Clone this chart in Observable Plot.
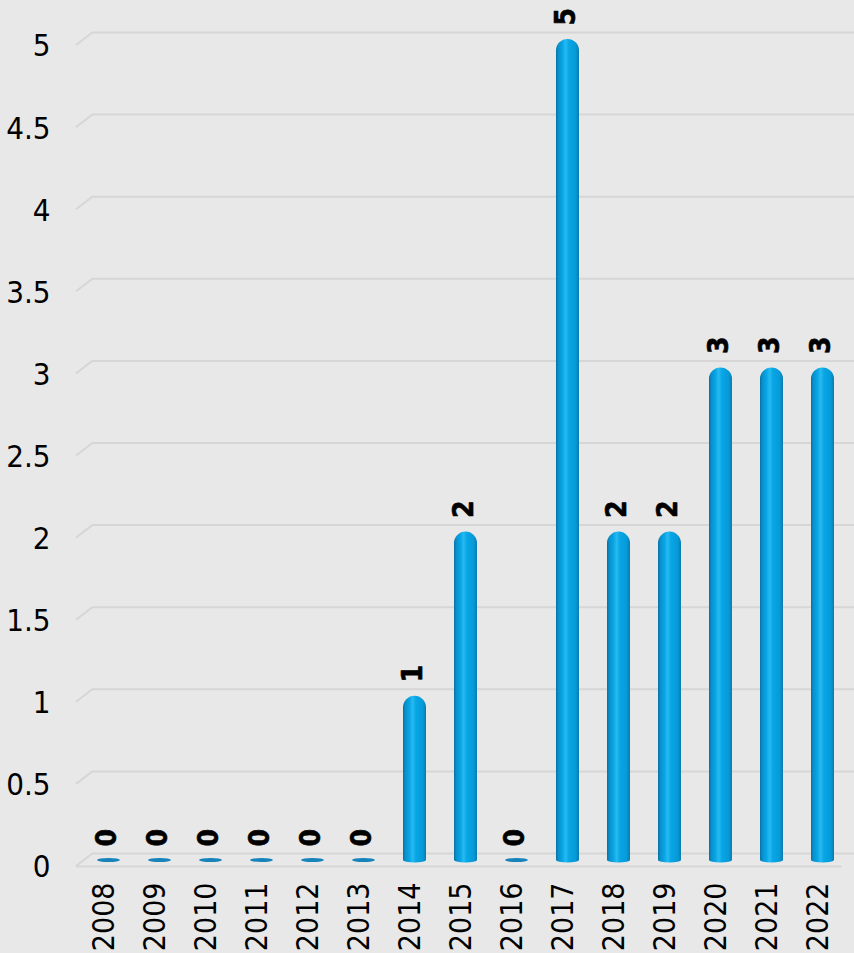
<!DOCTYPE html>
<html>
<head>
<meta charset="utf-8">
<script src="https://cdn.jsdelivr.net/npm/d3@7"></script>
<script src="https://cdn.jsdelivr.net/npm/@observablehq/plot@0.6"></script>
<style>
  html, body { margin: 0; padding: 0; background: #e8e8e8; }
  #chart svg { display: block; }
</style>
</head>
<body>
<div id="chart"></div>
<script>
const years = ["2008","2009","2010","2011","2012","2013","2014","2015","2016","2017","2018","2019","2020","2021","2022"];
const counts = [0,0,0,0,0,0,1,2,0,5,2,2,3,3,3];
const yTicks = [0,0.5,1,1.5,2,2.5,3,3.5,4,4.5,5];

const data = years.map((year, i) => ({year, count: counts[i]}));
const nonzero = data.filter(d => d.count > 0);
const zeros = data.filter(d => d.count === 0);

const font = '"DejaVu Sans Condensed", "Liberation Sans", "DejaVu Sans", sans-serif';
const gridColor = "#d6d6d6";
const barOpts = {x: "year", insetLeft: 14, insetRight: 14, dx: 5};

const plot = Plot.plot({
  width: 854,
  height: 953,
  marginLeft: 78,
  marginRight: 10.4,
  marginTop: 39,
  marginBottom: 93,
  style: {background: "#e8e8e8", fontFamily: font, color: "black"},
  x: {type: "band", domain: years, padding: 0, axis: null},
  y: {domain: [0, 5], axis: null},
  marks: [
    // back-wall gridlines
    Plot.ruleY(yTicks, {y: d => d, dy: -7, dx: 15, stroke: gridColor, strokeWidth: 2}),
    // front edge of the floor
    Plot.ruleY([0], {y: d => d, dy: 6, dx: -2, stroke: gridColor, strokeWidth: 2}),
    // cylinder bodies (rounded top)
    Plot.barY(nonzero, {...barOpts, y: "count", fill: "url(#cyl)", rx: 11.5}),
    Plot.barY(nonzero, {...barOpts, y: "count", insetTop: 11.5, fill: "url(#cyl)"}),
    // cylinder bases
    Plot.barY(nonzero, {...barOpts, y1: d => 0, y2: d => 0, insetTop: -2.5, insetBottom: -2.5, rx: 11.5, ry: 2.5, fill: "url(#cyl)"}),
    Plot.barY(zeros, {...barOpts, y1: d => 0, y2: d => 0, insetTop: -2, insetBottom: -2, rx: 11.5, ry: 2, fill: "#1683bb"}),
    // value labels
    Plot.text(data, {x: "year", y: "count", text: d => String(d.count), rotate: -90, textAnchor: "start", lineAnchor: "middle", dy: -14, dx: 3, fontWeight: "bold", fontSize: 28, fill: "black", stroke: "black", strokeWidth: 0.6}),
    // y tick labels
    Plot.text(yTicks, {y: d => d, text: d => String(d), frameAnchor: "left", textAnchor: "end", dx: -28, dy: 7, fontSize: 31, fill: "black"}),
    // x tick labels
    Plot.text(years, {x: d => d, text: d => d, frameAnchor: "bottom", rotate: -90, textAnchor: "end", lineAnchor: "middle", dy: 22, fontSize: 30, fill: "black"})
  ]
});

// gradient for cylinder look
const svg = d3.select(plot);
const defs = svg.insert("defs", ":first-child");
const grad = defs.append("linearGradient").attr("id", "cyl").attr("x1", "0").attr("x2", "1").attr("y1", "0").attr("y2", "0");
[[0, "#0a6e9f"], [0.1, "#0990cc"], [0.28, "#08a6e6"], [0.42, "#28baf0"], [0.56, "#08a6e6"], [0.85, "#069ad8"], [1, "#0b7bb0"]]
  .forEach(([o, c]) => grad.append("stop").attr("offset", o).attr("stop-color", c));

// diagonal connectors of the 3D wall gridlines
const y = plot.scale("y");
const g = svg.insert("g", "g").attr("stroke", gridColor).attr("stroke-width", 2);
yTicks.forEach(v => {
  const yy = y.apply(v);
  g.append("line").attr("x1", 76).attr("y1", yy + 6).attr("x2", 93).attr("y2", yy - 7);
});

document.getElementById("chart").appendChild(plot);
</script>
</body>
</html>
